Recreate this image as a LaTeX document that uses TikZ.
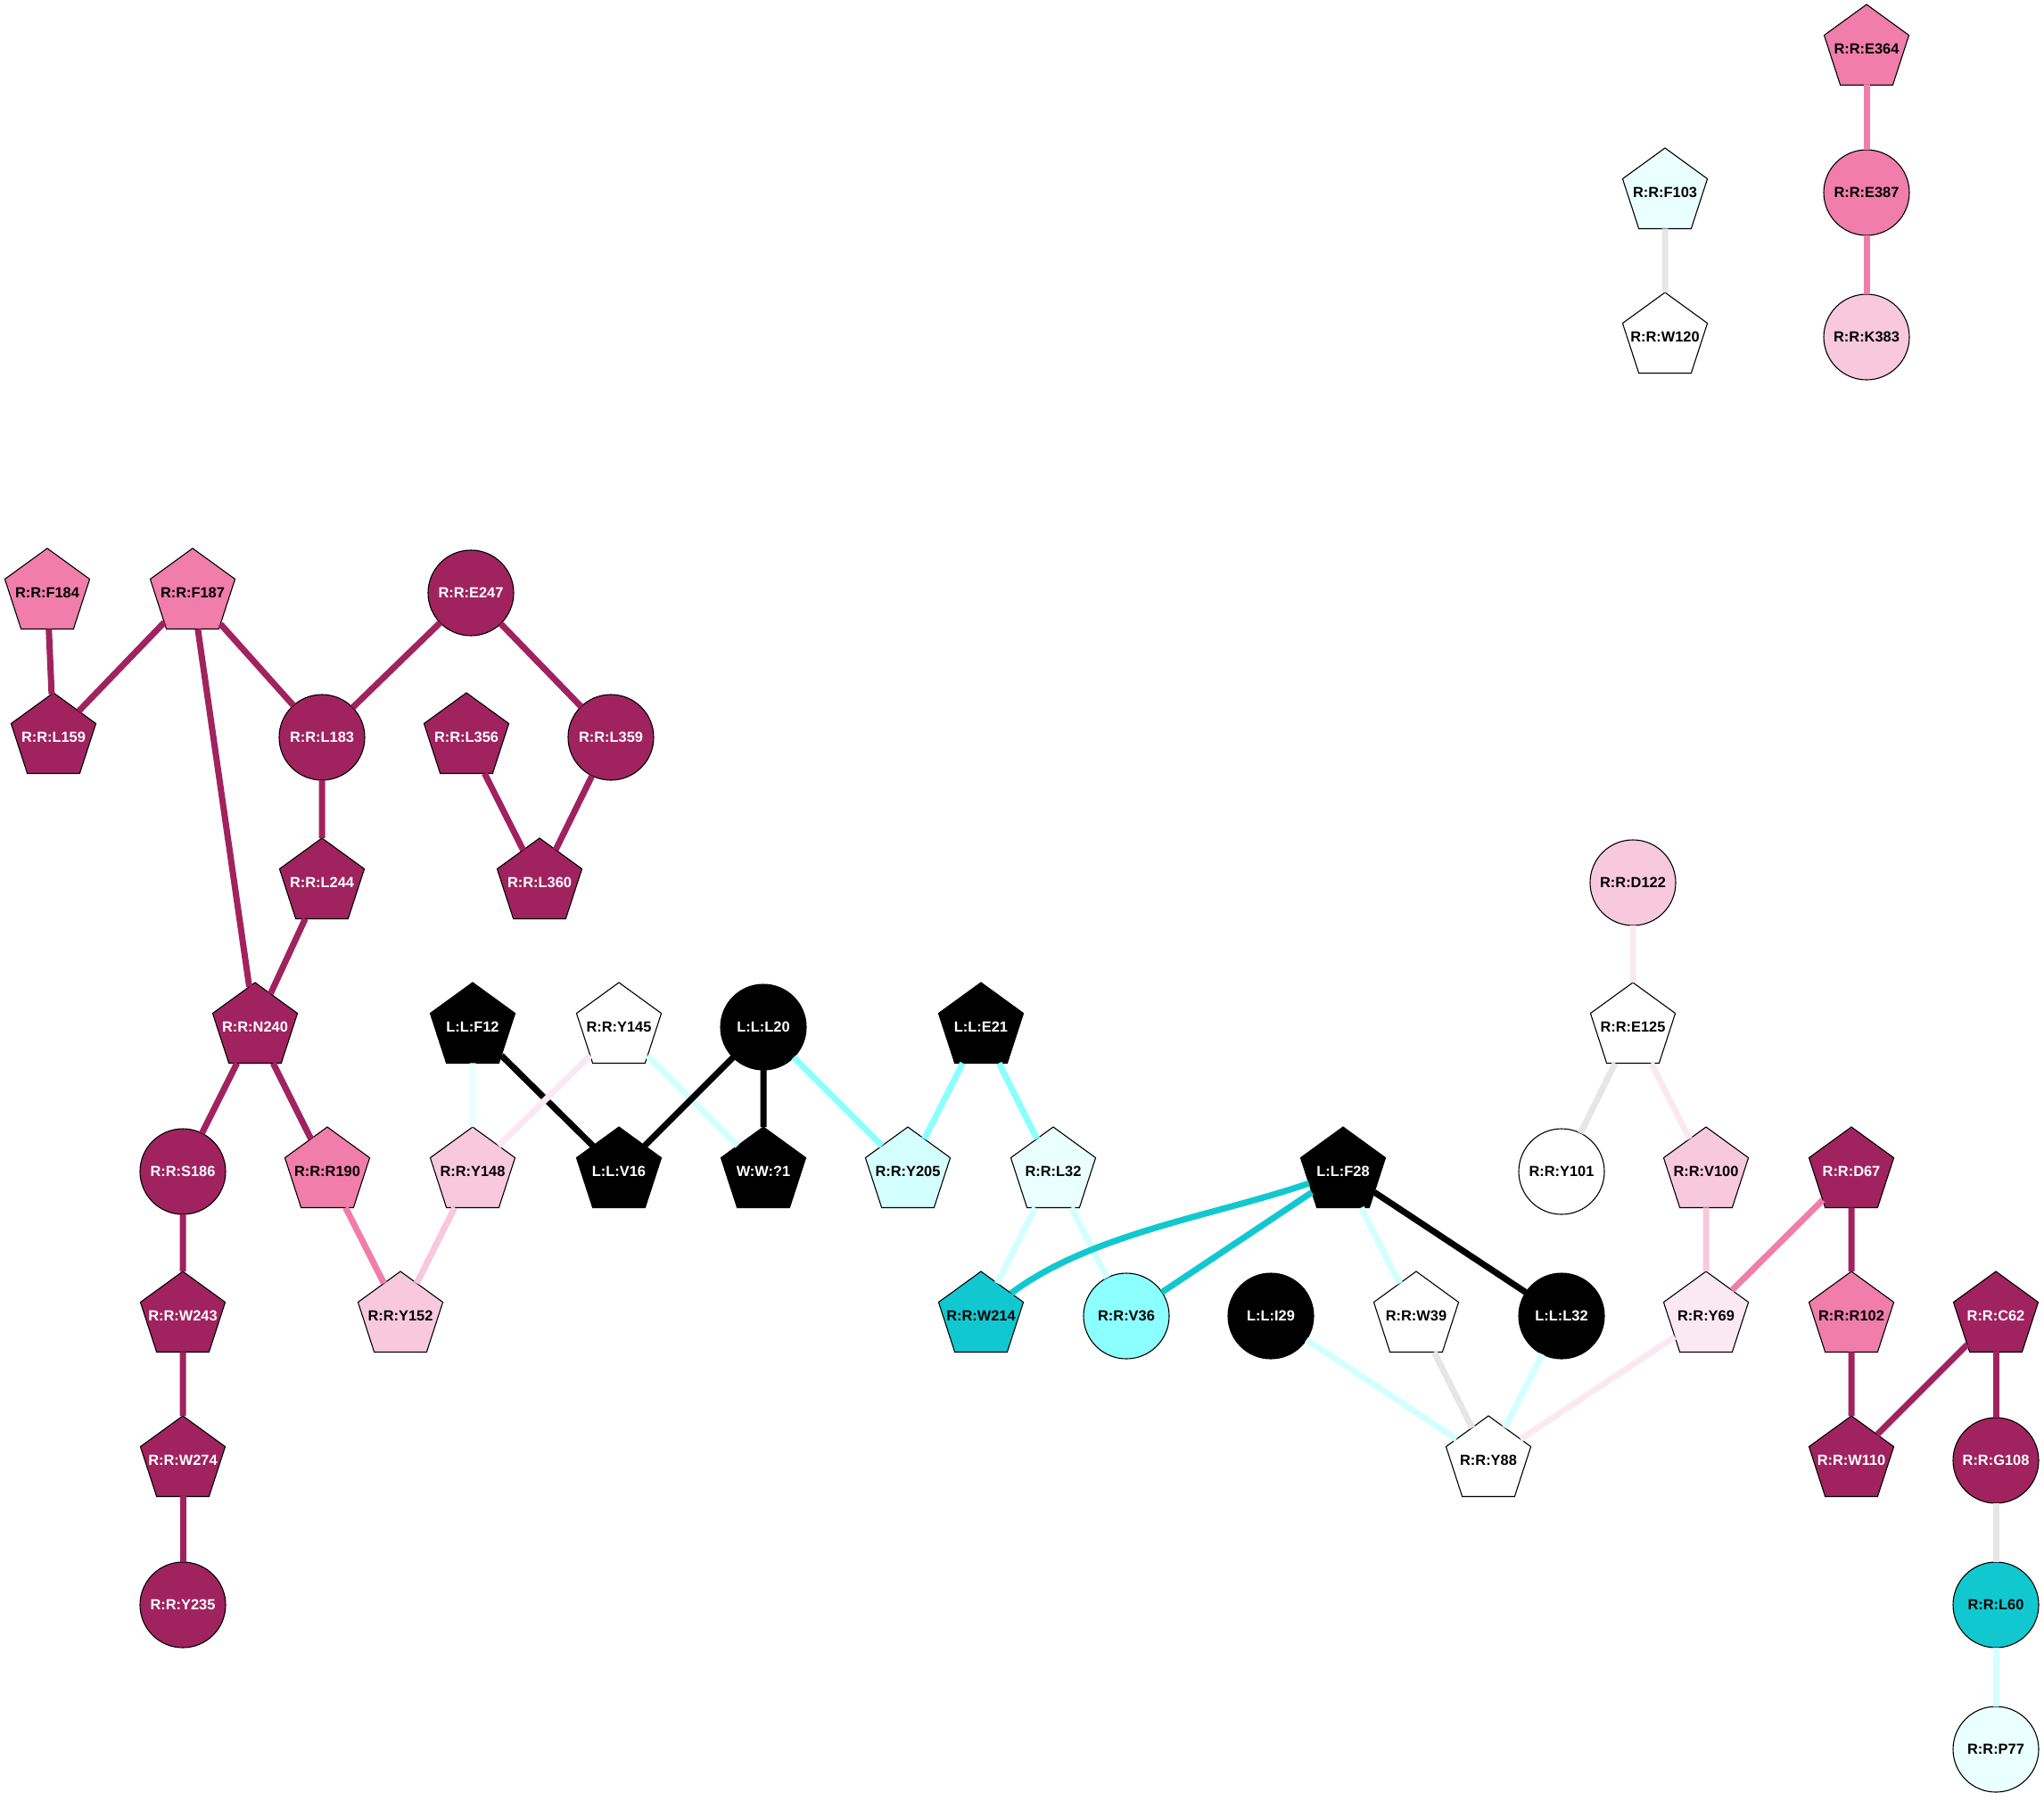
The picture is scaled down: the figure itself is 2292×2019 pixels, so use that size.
\documentclass[tikz,border=0pt]{standalone}
\usepackage{fontspec}
\setmainfont{Liberation Sans}
\usetikzlibrary{shapes.geometric}
\definecolor{dkmag}{RGB}{160,35,95}
\definecolor{mdpink}{RGB}{240,125,170}
\definecolor{ltpink}{RGB}{248,200,221}
\definecolor{vlpink}{RGB}{251,233,241}
\definecolor{vlcyan}{RGB}{234,255,255}
\definecolor{ltcyan}{RGB}{212,255,255}
\definecolor{mdcyan}{RGB}{140,255,255}
\definecolor{tealc}{RGB}{18,200,208}
\definecolor{edgegr}{RGB}{230,230,230}
\begin{document}
\begin{tikzpicture}[x=1pt,y=-1pt,
    res/.style={draw=black,line width=1.1pt,outer sep=0pt,
      font=\fontsize{16.4}{18}\selectfont\bfseries},
    pent/.style={res,inner sep=-14pt,regular polygon,regular polygon sides=5,minimum size=100pt},
    circ/.style={res,inner sep=0pt,circle,minimum size=96pt},
    dk/.style={fill=dkmag,text=white},
    bk/.style={fill=black,text=white},
    link/.style={line width=7pt},
    edk/.style={link,dkmag}, epk/.style={link,mdpink}, elp/.style={link,ltpink},
    evp/.style={link,vlpink}, evc/.style={link,vlcyan}, elc/.style={link,ltcyan},
    ecy/.style={link,mdcyan}, etl/.style={link,tealc}, egr/.style={link,edgegr},
    ebk/.style={link,black}]
  \useasboundingbox (0,0) rectangle (2292,2019);

  \node[pent,fill=mdpink] (E364) at (2093,55) {R:R:E364};
  \node[circ,fill=mdpink] (E387) at (2093,216) {R:R:E387};
  \node[circ,fill=ltpink] (K383) at (2093,378) {R:R:K383};
  \node[pent,fill=vlcyan] (F103) at (1867,216) {R:R:F103};
  \node[pent,fill=white] (W120) at (1867,378) {R:R:W120};

  \node[pent,fill=mdpink] (F184) at (53,665) {R:R:F184};
  \node[pent,fill=mdpink] (F187) at (216,665) {R:R:F187};
  \node[circ,dk] (E247) at (528,665) {R:R:E247};
  \node[pent,dk] (L159) at (60,827) {R:R:L159};
  \node[circ,dk] (L183) at (361,827) {R:R:L183};
  \node[pent,dk] (L356) at (523,827) {R:R:L356};
  \node[circ,dk] (L359) at (685,827) {R:R:L359};
  \node[pent,dk] (L244) at (361,990) {R:R:L244};
  \node[pent,dk] (L360) at (605,990) {R:R:L360};
  \node[pent,dk] (N240) at (286,1152) {R:R:N240};
  \node[circ,dk] (S186) at (205,1314) {R:R:S186};
  \node[pent,fill=mdpink] (R190) at (367,1314) {R:R:R190};
  \node[pent,dk] (W243) at (205,1476) {R:R:W243};
  \node[pent,dk] (W274) at (205,1638) {R:R:W274};
  \node[circ,dk] (Y235) at (205,1800) {R:R:Y235};
  \node[pent,fill=ltpink] (Y148) at (530,1314) {R:R:Y148};
  \node[pent,fill=ltpink] (Y152) at (449,1476) {R:R:Y152};

  \node[pent,bk] (F12) at (530,1152) {L:L:F12};
  \node[pent,fill=white] (Y145) at (694,1152) {R:R:Y145};
  \node[circ,bk] (L20) at (856,1152) {L:L:L20};
  \node[pent,bk] (E21) at (1100,1152) {L:L:E21};
  \node[pent,bk] (V16) at (694,1314) {L:L:V16};
  \node[pent,bk] (W1) at (856,1314) {W:W:?1};
  \node[pent,fill=ltcyan] (Y205) at (1018,1314) {R:R:Y205};
  \node[pent,fill=vlcyan] (RL32) at (1181,1314) {R:R:L32};
  \node[pent,fill=tealc] (W214) at (1100,1476) {R:R:W214};
  \node[circ,fill=mdcyan] (V36) at (1263,1476) {R:R:V36};

  \node[pent,bk] (F28) at (1506,1314) {L:L:F28};
  \node[circ,bk] (I29) at (1425,1476) {L:L:I29};
  \node[pent,fill=white] (W39) at (1588,1476) {R:R:W39};
  \node[circ,bk] (LL32) at (1751,1476) {L:L:L32};
  \node[pent,fill=white] (Y88) at (1669,1638) {R:R:Y88};

  \node[circ,fill=ltpink] (D122) at (1831,990) {R:R:D122};
  \node[pent,fill=white] (E125) at (1831,1152) {R:R:E125};
  \node[circ,fill=white] (Y101) at (1751,1314) {R:R:Y101};
  \node[pent,fill=ltpink] (V100) at (1913,1314) {R:R:V100};
  \node[pent,fill=vlpink] (Y69) at (1913,1476) {R:R:Y69};
  \node[pent,dk] (D67) at (2076,1314) {R:R:D67};
  \node[pent,fill=mdpink] (R102) at (2076,1476) {R:R:R102};
  \node[pent,dk] (W110) at (2076,1638) {R:R:W110};
  \node[pent,dk] (C62) at (2238,1476) {R:R:C62};
  \node[circ,dk] (G108) at (2238,1638) {R:R:G108};
  \node[circ,fill=tealc] (L60) at (2238,1800) {R:R:L60};
  \node[circ,fill=vlcyan] (P77) at (2238,1962) {R:R:P77};

  \draw[epk] (E364) to (E387); \draw[epk] (E387) to (K383);
  \draw[egr] (F103) to (W120);

  \draw[edk] (F184) to (L159); \draw[edk] (F187) to (L159);
  \draw[edk] (F187) to (L183); \draw[edk] (F187) to (N240);
  \draw[edk] (E247) to (L183); \draw[edk] (E247) to (L359);
  \draw[edk] (L183) to (L244); \draw[edk] (L356) to (L360);
  \draw[edk] (L359) to (L360); \draw[edk] (L244) to (N240);
  \draw[edk] (N240) to (S186); \draw[edk] (N240) to (R190);
  \draw[edk] (S186) to (W243); \draw[edk] (W243) to (W274);
  \draw[edk] (W274) to (Y235);
  \draw[epk] (R190) to (Y152); \draw[elp] (Y148) to (Y152);

  \draw[evc] (F12) to (Y148); \draw[ebk] (F12) to (V16);
  \draw[evp] (Y145) to (Y148); \draw[elc] (Y145) to (W1);
  \draw[ebk] (L20) to (V16); \draw[ebk] (L20) to (W1);
  \draw[ecy] (L20) to (Y205); \draw[ecy] (E21) to (Y205);
  \draw[ecy] (E21) to (RL32);
  \draw[elc] (RL32) to (W214); \draw[elc] (RL32) to (V36);

  \draw[etl] (F28) to[out=199,in=37,looseness=0.8] (W214); \draw[etl] (F28) to (V36);
  \draw[elc] (F28) to (W39); \draw[ebk] (F28) to (LL32);
  \draw[elc] (I29) to (Y88); \draw[egr] (W39) to (Y88);
  \draw[elc] (LL32) to (Y88); \draw[evp] (Y69) to (Y88);

  \draw[evp] (D122) to (E125); \draw[egr] (E125) to (Y101);
  \draw[evp] (E125) to (V100); \draw[elp] (V100) to (Y69);
  \draw[epk] (D67) to (Y69); \draw[edk] (D67) to (R102);
  \draw[edk] (R102) to (W110); \draw[edk] (C62) to (W110);
  \draw[edk] (C62) to (G108); \draw[egr] (G108) to (L60);
  \draw[elc] (L60) to (P77);
\end{tikzpicture}
\end{document}
